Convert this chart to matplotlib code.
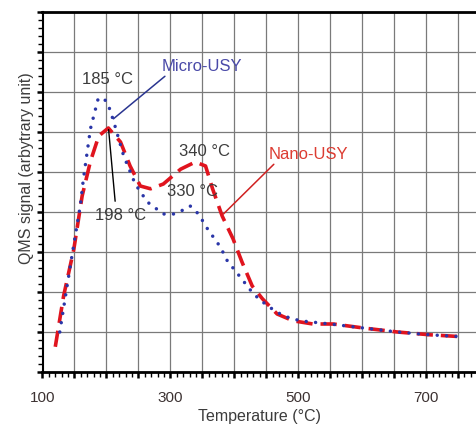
import matplotlib
matplotlib.use('Agg')
import matplotlib.pyplot as plt
from matplotlib.ticker import MultipleLocator, FuncFormatter

plt.rcParams['font.family'] = ['Liberation Sans', 'DejaVu Sans']

# Micro-USY (blue dotted)
micro_t = [127, 147, 159, 164, 175, 187, 195, 202, 211, 227, 245, 264, 289, 305,
           320, 331, 344, 358, 378, 389, 409, 430, 452, 477, 503, 550, 602, 655, 706, 758]
micro_s = [1.0, 3.0, 4.15, 4.83, 6.08, 6.83, 6.85, 6.72, 6.28, 5.4, 4.7, 4.25, 3.95, 3.95,
           4.05, 4.15, 3.95, 3.58, 3.13, 2.78, 2.38, 1.95, 1.65, 1.4, 1.28, 1.2, 1.1, 1.0, 0.93, 0.88]

# Nano-USY (red dashed)
nano_t = [120, 133, 149, 162, 175, 188, 203, 222, 237, 253, 269, 289, 316, 339, 355,
          366, 381, 398, 412, 428, 444, 467, 492, 523, 555, 602, 655, 706, 758]
nano_s = [0.63, 1.9, 3.07, 4.4, 5.27, 5.9, 6.1, 5.75, 5.15, 4.65, 4.58, 4.7, 5.07, 5.25, 5.15,
          4.58, 3.9, 3.33, 2.75, 2.15, 1.83, 1.45, 1.28, 1.2, 1.2, 1.1, 1.0, 0.93, 0.88]

xlabels = [100, 300, 500, 700]

fig = plt.figure(figsize=(4.76, 4.27), dpi=100)
ax = fig.add_axes([42.5 / 476, 1 - 373 / 427, 1 - 42.5 / 476, (373 - 13) / 427])

ax.plot(nano_t, nano_s, color='#e0141e', lw=2.6, ls=(0, (4.5, 2.2)), zorder=3)
ax.plot(micro_t, micro_s, color='#2a36a8', lw=2.5, ls=(0, (0.01, 2.7)),
        dash_capstyle='round', zorder=4)

ax.set_xlim(100, 778)
ax.set_ylim(0, 9)
ax.xaxis.set_major_locator(MultipleLocator(50))
ax.xaxis.set_minor_locator(MultipleLocator(10))
ax.yaxis.set_major_locator(MultipleLocator(1))
ax.yaxis.set_minor_locator(MultipleLocator(0.2))
ax.xaxis.set_major_formatter(FuncFormatter(lambda v, p: f'{int(v)}' if int(round(v)) in xlabels else ''))
ax.yaxis.set_major_formatter(FuncFormatter(lambda v, p: ''))
ax.tick_params(which='major', direction='out', length=4, width=1.8, color='black',
               labelsize=11, labelcolor='#3c3232', pad=9)
ax.tick_params(which='minor', direction='out', length=3.5, width=1.0, color='black')
ax.grid(True, which='major', color='#7a7a7a', lw=0.9)

for s in ['top', 'bottom']:
    ax.spines[s].set_linewidth(2)
ax.spines['left'].set_linewidth(1.5)
ax.spines['right'].set_visible(False)

ax.set_xlabel('Temperature (°C)', fontsize=11.5, color='#3c3c3c')
ax.set_ylabel('QMS signal (arbytrary unit)', fontsize=11.5, color='#3c3c3c')
ax.yaxis.set_label_coords(-0.02, 0.57)
ax.xaxis.set_label_coords(0.5, -0.1)

txt = dict(fontsize=12, color='#3c3c3c', ha='center', va='center')
ax.text(202, 7.33, '185 °C', **txt)
ax.text(222, 3.93, '198 °C', **txt)
ax.text(353, 5.53, '340 °C', **txt)
ax.text(334, 4.53, '330 °C', **txt)
ax.annotate('', xy=(214, 4.2), xytext=(203, 6.13),
            arrowprops=dict(arrowstyle='-', color='black', lw=1))
ax.annotate('Micro-USY', xy=(211, 6.33), xytext=(350, 7.65), fontsize=12,
            color='#4a4aa8', ha='center', va='center',
            arrowprops=dict(arrowstyle='-', color='#2a3590', lw=1.1,
                            shrinkA=0, shrinkB=0, relpos=(0.1, 0.1)))
ax.annotate('Nano-USY', xy=(383, 3.95), xytext=(516, 5.45), fontsize=12,
            color='#dc3c32', ha='center', va='center',
            arrowprops=dict(arrowstyle='-', color='#d02020', lw=1.1,
                            shrinkA=0, shrinkB=0, relpos=(0.1, 0.0)))

fig.savefig('out.png', dpi=100)
